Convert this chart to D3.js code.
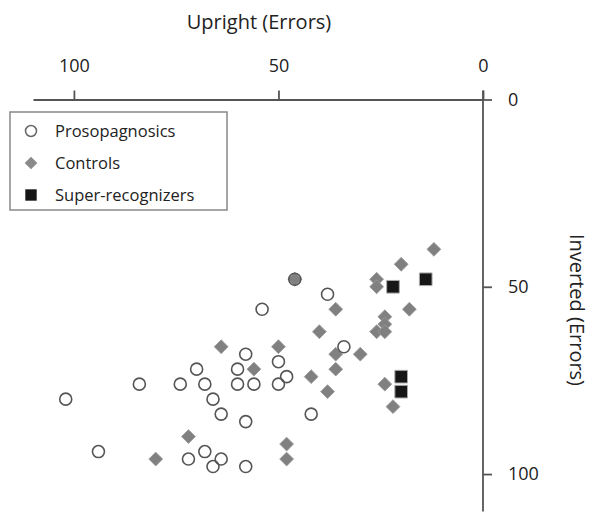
<!DOCTYPE html>
<html>
<head>
<meta charset="utf-8">
<script src="https://cdn.jsdelivr.net/npm/d3@7"></script>
<style>
  body { margin: 0; background: #fff; }
  text { font-family: 'Open Sans', sans-serif; fill: #222; }
</style>
</head>
<body>
<div class="chart"></div>
<script>
// errors on upright / inverted faces for each group
const prosoUpright  = [46, 38, 34, 54, 58, 50, 48, 50, 70, 60, 84, 74, 68, 60, 56, 102, 66, 64, 58, 42, 94, 68, 72, 64, 66, 58];
const prosoInverted = [48, 52, 66, 56, 68, 70, 74, 76, 72, 72, 76, 76, 76, 76, 76, 80, 80, 84, 86, 84, 94, 94, 96, 96, 98, 98];

const controlUpright  = [12, 20, 26, 26, 46, 36, 18, 24, 24, 26, 24, 40, 30, 36, 50, 64, 36, 56, 42, 38, 24, 22, 72, 80, 48, 48];
const controlInverted = [40, 44, 48, 50, 48, 56, 56, 58, 60, 62, 62, 62, 68, 68, 66, 66, 72, 72, 74, 78, 76, 82, 90, 96, 92, 96];

const superUpright  = [14, 22, 20, 20];
const superInverted = [48, 50, 74, 78];

const xTicks = [100, 50, 0];
const yTicks = [0, 50, 100];
const legendLabels = ['Prosopagnosics', 'Controls', 'Super-recognizers'];

const width = 590;
const height = 512;

// upright axis runs backwards along the top, inverted runs down the right side
const xScale = d3.scaleLinear()
  .domain([110, 0])
  .range([33, 483]);

const yScale = d3.scaleLinear()
  .domain([0, 110])
  .range([99.5, 511.5]);

const svg = d3.select('.chart')
  .append('svg')
  .attr('width', width)
  .attr('height', height);

// X Axis (top)
const xAxis = d3.axisTop(xScale)
  .tickValues(xTicks)
  .tickSize(9)
  .tickPadding(19)
  .tickSizeOuter(0);

const gx = svg.append('g')
  .attr('transform', `translate(0, ${yScale(0)})`)
  .call(xAxis);

gx.selectAll('text').style('font-size', '18px');

// Y Axis (right)
const yAxis = d3.axisRight(yScale)
  .tickValues(yTicks)
  .tickSize(9)
  .tickPadding(16)
  .tickSizeOuter(0);

const gy = svg.append('g')
  .attr('transform', `translate(${xScale(0)}, 0)`)
  .call(yAxis);

gy.selectAll('text').style('font-size', '18px');

// the y axis also pokes up a little above the x axis
gy.select('.domain').attr('d', `M0,${yScale(0) - 9}V${yScale(110)}`);

svg.selectAll('.domain, .tick line')
  .attr('stroke', '#555')
  .attr('stroke-width', 1.8);

// axis titles
svg.append('text')
  .attr('x', 259)
  .attr('y', 29)
  .attr('text-anchor', 'middle')
  .style('font-size', '20px')
  .text('Upright (Errors)');

svg.append('text')
  .attr('transform', `translate(577, 310) rotate(90)`)
  .attr('text-anchor', 'middle')
  .attr('dy', '0.35em')
  .style('font-size', '20px')
  .text('Inverted (Errors)');

const diamond = d3.symbol().type(d3.symbolSquare).size(96);
const square = d3.symbol().type(d3.symbolSquare).size(160);

// Controls
svg.append('g')
  .selectAll('path')
  .data(d3.zip(controlUpright, controlInverted))
  .join('path')
  .attr('d', diamond)
  .attr('transform', d => `translate(${xScale(d[0])}, ${yScale(d[1])}) rotate(45)`)
  .attr('fill', '#808080')
  .attr('stroke', '#9a9a9a')
  .attr('stroke-width', 0.8);

// Super-recognizers
svg.append('g')
  .selectAll('path')
  .data(d3.zip(superUpright, superInverted))
  .join('path')
  .attr('d', square)
  .attr('transform', d => `translate(${xScale(d[0])}, ${yScale(d[1])})`)
  .attr('fill', '#161616')
  .attr('stroke', '#aaa')
  .attr('stroke-width', 1);

// Prosopagnosics
svg.append('g')
  .selectAll('circle')
  .data(d3.zip(prosoUpright, prosoInverted))
  .join('circle')
  .attr('cx', d => xScale(d[0]))
  .attr('cy', d => yScale(d[1]))
  .attr('r', 6)
  .attr('fill', 'none')
  .attr('stroke', '#555')
  .attr('stroke-width', 1.6);

// Legend
const legend = svg.append('g');

legend.append('rect')
  .attr('x', 10)
  .attr('y', 112)
  .attr('width', 217)
  .attr('height', 98)
  .attr('fill', '#fff')
  .attr('stroke', '#888')
  .attr('stroke-width', 1.5);

const rows = legend.selectAll('g.row')
  .data(legendLabels)
  .join('g')
  .attr('class', 'row')
  .attr('transform', (d, i) => `translate(31, ${131 + i * 32})`);

rows.each(function(d, i) {
  const row = d3.select(this);
  if (i === 0) {
    row.append('circle').attr('r', 5.5).attr('fill', 'none')
      .attr('stroke', '#666').attr('stroke-width', 1.5);
  } else if (i === 1) {
    row.append('path').attr('d', d3.symbol().type(d3.symbolSquare).size(80))
      .attr('transform', 'rotate(45)').attr('fill', '#8a8a8a');
  } else {
    row.append('path').attr('d', d3.symbol().type(d3.symbolSquare).size(130))
      .attr('fill', '#161616');
  }
});

rows.append('text')
  .attr('x', 24)
  .attr('dy', '0.35em')
  .style('font-size', '16.5px')
  .text(d => d);
</script>
</body>
</html>
